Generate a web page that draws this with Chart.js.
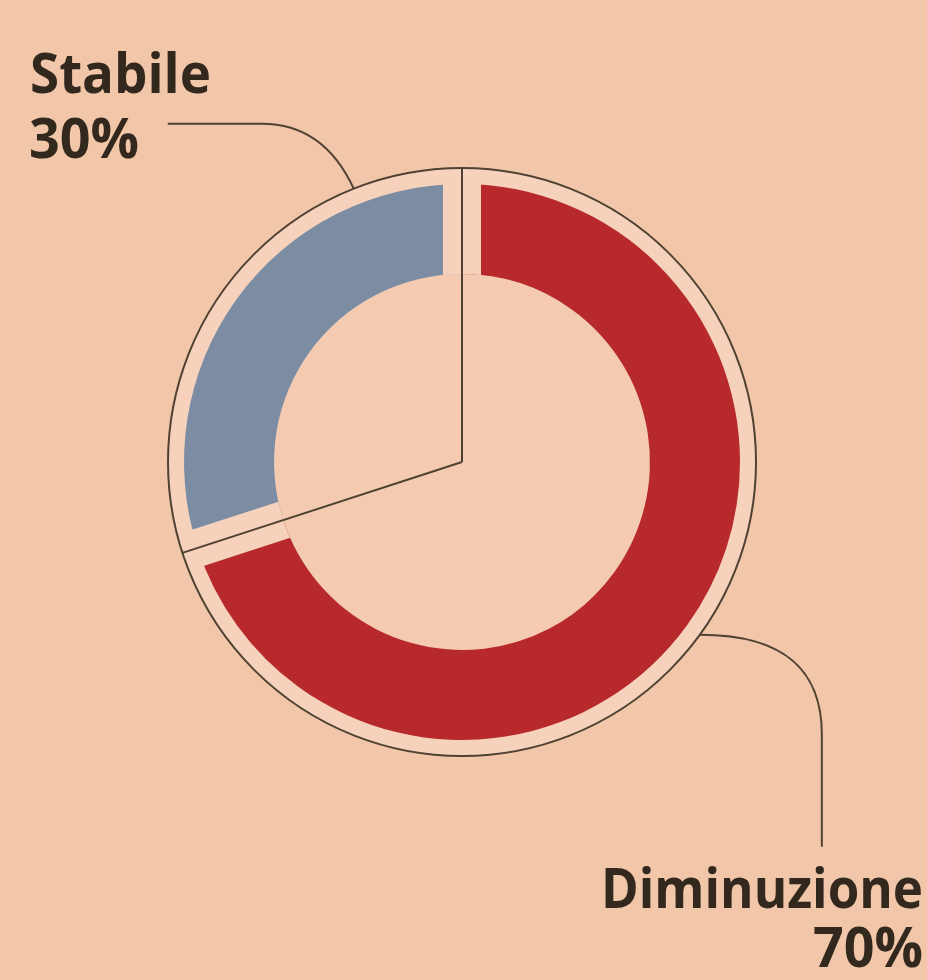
<!DOCTYPE html>
<html>
<head>
<meta charset="utf-8">
<script src="https://cdn.jsdelivr.net/npm/chart.js@4.4.1/dist/chart.umd.min.js"></script>
<style>
  html, body { margin: 0; padding: 0; background: #f2c6a9; }
  canvas { display: block; }
</style>
</head>
<body>
<canvas id="chart" width="927" height="980"></canvas>
<script>
const categories = ["Diminuzione", "Stabile"];
const shares = [70, 30];
const shareLabels = ["70%", "30%"];
const colors = ["#b7292b", "#7c8da3"];

const insideFill = "#f4cbb1";
const gapFill = "#f6d2bc";
const ink = "#4f4232";
const textInk = "#33281d";

// outline ring, radial cuts, leader lines and labels
const decorations = {
  id: "decorations",
  beforeDatasetsDraw(chart) {
    const arc = chart.getDatasetMeta(0).data[0];
    const ctx = chart.ctx;
    const ringR = arc.outerRadius + 16;
    ctx.save();
    ctx.fillStyle = gapFill;
    ctx.beginPath();
    ctx.arc(arc.x, arc.y, ringR, 0, Math.PI * 2);
    ctx.fill();
    ctx.fillStyle = insideFill;
    ctx.beginPath();
    ctx.arc(arc.x, arc.y, arc.innerRadius, 0, Math.PI * 2);
    ctx.fill();
    ctx.restore();
  },
  afterDatasetsDraw(chart) {
    const arcs = chart.getDatasetMeta(0).data;
    const ctx = chart.ctx;
    const cx = arcs[0].x, cy = arcs[0].y;
    const outerR = arcs[0].outerRadius, innerR = arcs[0].innerRadius;
    const ringR = outerR + 16;

    // gaps between segments, kept inside the ring band
    ctx.save();
    ctx.beginPath();
    ctx.arc(cx, cy, ringR, 0, Math.PI * 2);
    ctx.arc(cx, cy, innerR, Math.PI * 2, 0, true);
    ctx.clip();
    arcs.forEach(a => {
      ctx.strokeStyle = gapFill;
      ctx.lineWidth = 38;
      ctx.lineCap = "butt";
      ctx.beginPath();
      ctx.moveTo(cx + Math.cos(a.startAngle) * (innerR - 10), cy + Math.sin(a.startAngle) * (innerR - 10));
      ctx.lineTo(cx + Math.cos(a.startAngle) * ringR, cy + Math.sin(a.startAngle) * ringR);
      ctx.stroke();
    });
    ctx.restore();

    ctx.save();
    // outer ring
    ctx.strokeStyle = ink;
    ctx.lineWidth = 2;
    ctx.beginPath();
    ctx.arc(cx, cy, ringR, 0, Math.PI * 2);
    ctx.stroke();

    // radial lines
    arcs.forEach(a => {
      ctx.beginPath();
      ctx.moveTo(cx, cy);
      ctx.lineTo(cx + Math.cos(a.startAngle) * ringR, cy + Math.sin(a.startAngle) * ringR);
      ctx.stroke();
    });

    // leader: Diminuzione, from the middle of its segment
    const d = arcs[0];
    const dMid = (d.startAngle + d.endAngle) / 2;
    const dx = cx + Math.cos(dMid) * ringR, dy = cy + Math.sin(dMid) * ringR;
    ctx.beginPath();
    ctx.moveTo(dx, dy);
    ctx.bezierCurveTo(dx + 90, dy, dx + 122, dy + 40, dx + 122, dy + 100);
    ctx.lineTo(dx + 122, dy + 212);
    ctx.stroke();

    // leader: Stabile, near the top end of its segment
    const s = arcs[1];
    const sAng = s.endAngle - (s.endAngle - s.startAngle) * 0.2;
    const sx = cx + Math.cos(sAng) * ringR, sy = cy + Math.sin(sAng) * ringR;
    ctx.beginPath();
    ctx.moveTo(sx, sy);
    ctx.quadraticCurveTo(sx - 30, sy - 65, sx - 92, sy - 65);
    ctx.lineTo(sx - 186, sy - 65);
    ctx.stroke();

    // labels
    ctx.fillStyle = textInk;
    ctx.textBaseline = "alphabetic";
    ctx.font = "700 56px 'Open Sans'";
    ctx.textAlign = "left";
    ctx.fillText(categories[1], 30, 93, 181);
    ctx.fillText(shareLabels[1], 29, 158, 110);
    ctx.textAlign = "right";
    ctx.fillText(categories[0], 923, 908, 322);
    ctx.fillText(shareLabels[0], 923, 967, 110);
    ctx.restore();
  }
};

new Chart(document.getElementById("chart"), {
  type: "doughnut",
  data: {
    labels: categories,
    datasets: [{
      data: shares,
      backgroundColor: colors,
      borderWidth: 0,
      hoverOffset: 0
    }]
  },
  options: {
    responsive: false,
    devicePixelRatio: 1,
    animation: false,
    cutout: "67.6%",
    rotation: 0,
    layout: { padding: { left: 184, right: 187, top: 184, bottom: 240 } },
    plugins: {
      legend: { display: false },
      tooltip: { enabled: false }
    },
    events: []
  },
  plugins: [decorations]
});
</script>
</body>
</html>
